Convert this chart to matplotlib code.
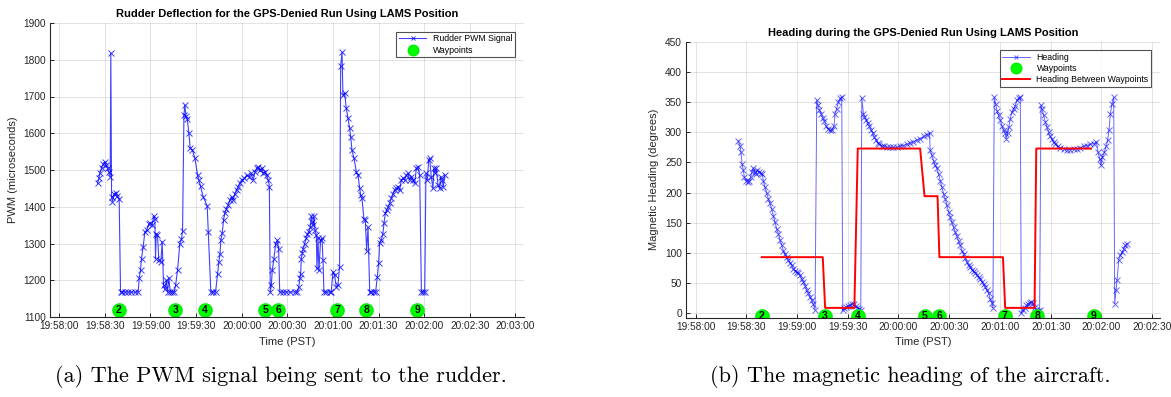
import matplotlib
matplotlib.use('Agg')
import matplotlib.pyplot as plt

plt.rcParams['font.family'] = ['Liberation Sans', 'DejaVu Sans']

# times are seconds after 19:58:00 (PST)
pwm_t = [25.2, 26.1, 26.7, 27.8, 28.9, 30.0, 30.7, 31.8, 32.6, 33.5, 33.9, 34.4, 35.0, 36.1, 37.2,
         38.3, 39.4, 40.3, 41.4, 43.2, 45.4, 47.5, 49.7, 51.9, 52.6, 53.5, 54.1, 55.2, 56.3, 57.6,
         58.9, 60.0, 61.1, 62.2, 62.9, 63.3, 63.8, 64.6, 65.5, 66.8, 67.7, 68.6, 69.5, 70.4, 71.2,
         72.1, 73.0, 74.3, 75.6, 76.5, 77.8, 79.3, 80.4, 81.1, 82.0, 82.6, 83.3, 84.2, 85.3, 86.1,
         87.5, 89.2, 91.0, 91.8, 92.9, 94.7, 97.3, 98.0, 99.7, 101.3, 102.8, 104.1, 105.0, 105.7,
         106.3, 107.2, 108.1, 108.9, 110.0, 111.1, 112.2, 113.3, 114.4, 115.5, 116.6, 117.7, 118.8,
         119.9, 121.7, 123.2, 124.7, 126.1, 127.6, 128.7, 129.8, 130.9, 132.0, 133.1, 134.2, 135.3,
         136.4, 137.5, 138.2, 138.8, 139.5, 140.1, 141.2, 142.3, 143.4, 144.3, 145.0, 147.1, 149.3,
         151.5, 154.8, 156.6, 157.5, 158.3, 158.8, 159.2, 159.9, 160.5, 161.4, 162.5, 163.2, 164.3,
         165.1, 165.8, 166.4, 167.1, 167.5, 168.2, 169.1, 169.5, 170.2, 170.8, 171.9, 172.8, 173.5,
         174.1, 175.7, 177.9, 178.9, 180.0, 181.1, 182.2, 183.3, 184.4, 185.1, 186.0, 186.6, 187.7,
         188.8, 189.9, 191.0, 191.7, 192.5, 193.9, 195.4, 196.5, 197.6, 198.2, 199.1, 200.4, 201.3,
         202.2, 203.1, 204.2, 205.3, 207.0, 208.1, 209.2, 210.1, 210.7, 211.8, 212.9, 213.6, 214.5,
         215.4, 216.2, 217.3, 218.4, 219.5, 220.6, 221.7, 222.8, 223.9, 225.0, 226.1, 227.2, 228.3,
         229.4, 230.5, 231.6, 232.7, 233.8, 234.9, 236.0, 237.1, 238.2, 239.3, 240.4, 241.2, 242.1,
         243.0, 243.6, 244.7, 245.8, 246.5, 247.4, 248.0, 249.1, 250.2, 250.9, 251.8, 252.6, 253.5]
pwm_v = [1464, 1477, 1491, 1505, 1516, 1523, 1514, 1505, 1495, 1482, 1818, 1427, 1414, 1435, 1438,
         1429, 1420, 1168, 1168, 1168, 1168, 1168, 1168, 1168, 1207, 1229, 1259, 1291, 1332, 1336,
         1353, 1356, 1350, 1375, 1368, 1259, 1327, 1323, 1255, 1250, 1305, 1186, 1175, 1200, 1168,
         1205, 1168, 1168, 1168, 1186, 1227, 1300, 1311, 1335, 1650, 1677, 1647, 1638, 1600, 1559,
         1555, 1532, 1486, 1473, 1456, 1427, 1402, 1332, 1168, 1168, 1168, 1218, 1250, 1271,
         1309, 1329, 1365, 1382, 1395, 1405, 1418, 1427, 1418, 1436, 1445, 1454, 1465,
         1473, 1477, 1486, 1482, 1491, 1473, 1495, 1505, 1509, 1500, 1505, 1491, 1495,
         1486, 1473, 1455, 1168, 1186, 1227, 1259, 1298, 1309, 1286, 1168, 1168, 1168,
         1168, 1168, 1168, 1182, 1205, 1218, 1259, 1273, 1286, 1300, 1314, 1327, 1332,
         1345, 1375, 1359, 1350, 1375, 1336, 1323, 1232, 1314, 1227, 1309, 1314, 1255,
         1168, 1168, 1168, 1168, 1223, 1214, 1182, 1186, 1236, 1784, 1820, 1705, 1709,
         1668, 1641, 1614, 1591, 1555, 1532, 1495, 1486, 1450, 1432, 1423, 1368, 1364,
         1280, 1345, 1168, 1168, 1168, 1168, 1209, 1247, 1302, 1309, 1327, 1355, 1382,
         1391, 1400, 1409, 1423, 1436, 1445, 1450, 1455, 1445, 1473, 1477, 1473, 1486,
         1491, 1473, 1482, 1473, 1464, 1505, 1509, 1486, 1168, 1168, 1168, 1491, 1473,
         1527, 1532, 1482, 1450, 1505, 1491, 1505, 1459, 1450, 1482, 1473, 1455, 1486]

hdg_t = [25.25, 26.23, 26.83, 27.42, 28.21, 28.80, 29.79, 30.77, 31.76, 32.55, 33.34, 34.13, 34.92,
         35.71, 36.50, 37.68, 38.47, 39.26, 40.05, 41.04, 42.03, 43.01, 44.0, 44.99, 45.97, 46.96,
         47.95, 48.94, 49.92, 50.91, 51.9, 52.88, 53.87, 54.86, 55.84, 56.83, 57.82, 58.81, 59.79,
         60.78, 61.77, 62.75, 63.74, 64.73, 65.71, 66.70, 67.69, 68.68, 69.66, 70.65, 71.64, 72.43,
         73.22, 74.2, 75.19, 76.18, 77.16, 78.15, 79.53, 80.72, 81.90, 82.49, 83.48, 84.47, 85.45,
         86.44, 87.03, 87.82, 89.01, 90.19, 91.38, 92.56, 93.74, 94.73, 95.72, 96.90, 97.69, 98.29,
         99.27, 99.86, 100.85, 101.84, 102.83, 103.81, 104.8, 105.79, 106.77, 107.76, 108.75,
         110.13, 111.51, 113.09, 115.06, 117.04, 119.01, 120.99, 122.96, 124.93, 126.91, 128.88,
         130.86, 132.83, 134.80, 136.78, 138.36, 138.75, 139.74, 140.73, 141.71, 142.70, 143.69,
         144.67, 145.66, 146.65, 147.64, 148.62, 149.61, 150.60, 151.58, 152.57, 153.56, 154.54,
         155.53, 156.52, 157.51, 158.49, 159.48, 160.47, 161.45, 162.44, 163.43, 164.41, 165.40,
         166.39, 167.38, 168.36, 169.35, 170.34, 171.32, 172.31, 173.30, 174.28, 175.27, 175.86,
         176.65, 177.44, 178.23, 179.22, 180.21, 181.19, 182.18, 183.17, 183.76, 184.55, 185.34,
         186.13, 187.12, 188.10, 189.09, 190.08, 191.06, 192.05, 192.64, 193.63, 194.62, 195.60,
         196.59, 197.58, 198.57, 199.55, 200.54, 201.53, 202.51, 203.50, 204.29, 204.88, 205.87,
         206.86, 207.84, 208.83, 209.82, 210.80, 211.79, 212.78, 214.16, 215.74, 217.71, 219.69,
         221.66, 223.63, 225.61, 227.58, 229.56, 231.53, 233.50, 235.48, 237.06, 238.05, 239.03,
         239.82, 240.61, 241.79, 242.98, 243.76, 244.55, 245.35, 246.33, 247.32, 247.91, 248.70,
         249.3, 250.28, 251.27, 252.26, 253.24, 254.23, 255.22]
hdg_v = [286, 278, 267, 248, 237, 226, 220, 218, 220, 226, 234, 241, 234,
         231, 237, 234, 232, 231, 220, 209, 199, 190, 182, 173, 162, 151,
         140, 132, 122, 113, 104, 98, 93, 88, 83, 80, 74, 70, 68,
         67, 63, 57, 52, 46, 38, 33, 27, 22, 15, 6, 353, 345,
         337, 331, 324, 319, 311, 306, 303, 303, 311, 331, 339, 350, 356,
         358, 5, 8, 10, 12, 13, 15, 16, 12, 9, 7, 5, 357,
         331, 325, 321, 315, 310, 304, 298, 292, 287, 282, 280,
         278, 277, 275, 275, 275, 275, 277, 278, 280, 282, 284,
         287, 289, 293, 296, 299, 270, 262, 253, 245, 240, 231,
         220, 209, 198, 190, 179, 168, 160, 151, 143, 135, 128,
         120, 113, 104, 98, 91, 85, 80, 76, 72, 70, 67,
         63, 60, 57, 52, 48, 44, 38, 33, 24, 17, 9,
         358, 347, 336, 328, 320, 311, 303, 298, 289, 298, 309,
         322, 333, 339, 344, 353, 357, 358, 1, 5, 9, 13,
         16, 17, 18, 17, 10, 6, 4, 5, 345, 339, 328,
         317, 309, 300, 293, 288, 284, 280, 277, 274, 273, 271,
         271, 272, 273, 274, 277, 278, 280, 281, 284, 267, 256,
         245, 259, 267, 278, 287, 304, 331, 347, 358, 16, 38,
         55, 88, 96, 101, 107, 113, 115]

# commanded heading between waypoints
leg_t = [39.1, 75.2, 76.6, 93.9, 95.9, 132.8, 135.4, 143.1, 144.2, 181.8, 183.1, 200.5, 201.5, 233.9]
leg_v = [93, 93, 9, 9, 273, 273, 194, 194, 93, 93, 9, 9, 273, 273]

wp_t = [39.2, 76.4, 95.9, 135.6, 144.1, 182.8, 202.0, 235.5]
wp_id = [2, 3, 4, 5, 6, 7, 8, 9]

ticks_a = list(range(0, 301, 30))
labels_a = ['19:58:00', '19:58:30', '19:59:00', '19:59:30', '20:00:00', '20:00:30',
            '20:01:00', '20:01:30', '20:02:00', '20:02:30', '20:03:00']
ticks_b = list(range(0, 271, 30))
labels_b = labels_a[:10]

fig = plt.figure(figsize=(11.71, 3.97), dpi=100)
ax1 = fig.add_axes([50/1171, 80/397, 474/1171, 294/397])
ax2 = fig.add_axes([686/1171, 79.3/397, 474/1171, 276/397])

dark = '0.15'


def style(ax):
    ax.spines['top'].set_visible(False)
    ax.spines['right'].set_visible(False)
    for s in ('left', 'bottom'):
        ax.spines[s].set_color(dark)
        ax.spines[s].set_linewidth(0.8)
    ax.tick_params(direction='in', length=3, width=0.7, color=dark, labelcolor=dark,
                   labelsize=7.3, pad=3)
    ax.grid(True, color=dark, alpha=0.15, linewidth=0.6)
    ax.set_axisbelow(True)


def add_legend(ax):
    leg = ax.legend(loc='upper right', fontsize=6.3, frameon=True, fancybox=False,
                    edgecolor=dark, borderpad=0.3, labelspacing=0.25, handlelength=3.1,
                    borderaxespad=1.0, bbox_to_anchor=(1.0, 1.0), markerscale=0.8)
    leg.get_frame().set_linewidth(0.8)


# (a) rudder PWM
ax1.plot(pwm_t, pwm_v, color='b', lw=0.8, marker='x', ms=4, mew=0.7, alpha=0.75,
         label='Rudder PWM Signal')
ax1.plot(wp_t, [1118] * len(wp_t), 'o', color='#00ff00', ms=9.5, mec='#00ee00', ls='none',
         label='Waypoints')
for t, n in zip(wp_t, wp_id):
    ax1.text(t, 1118, str(n), ha='center', va='center', fontsize=7.5, fontweight='bold')
ax1.set_xlim(-6.1, 305.7)
ax1.set_ylim(1100, 1900)
ax1.set_xticks(ticks_a)
ax1.set_xticklabels(labels_a)
ax1.set_yticks(range(1100, 1901, 100))
style(ax1)
ax1.set_title('Rudder Deflection for the GPS-Denied Run Using LAMS Position', fontsize=8,
              fontweight='bold', pad=4)
ax1.set_xlabel('Time (PST)', fontsize=8, color=dark, labelpad=4)
ax1.set_ylabel('PWM (microseconds)', fontsize=8, color=dark, labelpad=4)
add_legend(ax1)

# (b) heading
ax2.plot(hdg_t, hdg_v, color='b', lw=0.7, marker='x', ms=4, mew=0.7, alpha=0.6, label='Heading')
ax2.plot(wp_t, [-4] * len(wp_t), 'o', color='#00ff00', ms=9.5, mec='#00ee00', ls='none',
         label='Waypoints')
ax2.plot(leg_t, leg_v, color='r', lw=1.4, label='Heading Between Waypoints')
for t, n in zip(wp_t, wp_id):
    ax2.text(t, -4, str(n), ha='center', va='center', fontsize=7.5, fontweight='bold')
ax2.set_xlim(-5.7, 274.7)
ax2.set_ylim(-7.3, 450)
ax2.set_xticks(ticks_b)
ax2.set_xticklabels(labels_b)
ax2.set_yticks(range(0, 451, 50))
style(ax2)
ax2.set_title('Heading during the GPS-Denied Run Using LAMS Position', fontsize=8,
              fontweight='bold', pad=4)
ax2.set_xlabel('Time (PST)', fontsize=8, color=dark, labelpad=4)
ax2.set_ylabel('Magnetic Heading (degrees)', fontsize=8, color=dark, labelpad=4)
add_legend(ax2)

fig.text(281/1171, 1 - 376/397, '(a) The PWM signal being sent to the rudder.',
         fontfamily='cmr10', fontsize=16, ha='center', va='center')
fig.text(910/1171, 1 - 376/397, '(b) The magnetic heading of the aircraft.',
         fontfamily='cmr10', fontsize=16, ha='center', va='center')

fig.savefig('out.png', dpi=100)
